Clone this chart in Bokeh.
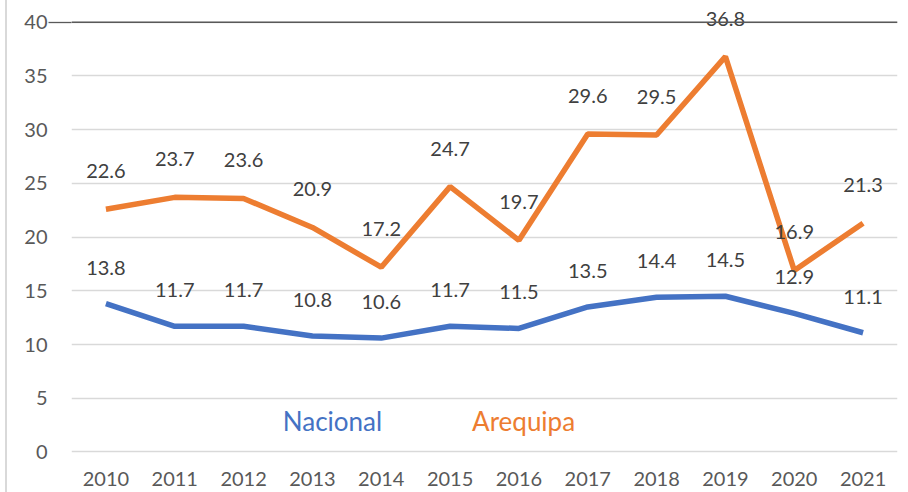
from bokeh.plotting import figure
from bokeh.models import ColumnDataSource, FixedTicker, LinearAxis, Span, Label, Range1d
from bokeh.embed import file_html
from bokeh.resources import INLINE

years = ["2010", "2011", "2012", "2013", "2014", "2015",
         "2016", "2017", "2018", "2019", "2020", "2021"]
nacional = [13.8, 11.7, 11.7, 10.8, 10.6, 11.7, 11.5, 13.5, 14.4, 14.5, 12.9, 11.1]
arequipa = [22.6, 23.7, 23.6, 20.9, 17.2, 24.7, 19.7, 29.6, 29.5, 36.8, 16.9, 21.3]
y_ticks = [0, 5, 10, 15, 20, 25, 30, 35, 40]
series_names = ["Nacional", "Arequipa"]

BLUE = "#4472C4"
ORANGE = "#ED7D31"
FONT = "Lato"

src = ColumnDataSource(dict(
    year=years, nac=nacional, are=arequipa,
    nac_lbl=[f"{v:.1f}" for v in nacional],
    are_lbl=[f"{v:.1f}" for v in arequipa],
    base=[y_ticks[0]] * len(years),
))

# frame reaches the bottom edge so the category labels can sit below the zero line
p = figure(x_range=years, y_range=Range1d(-3.77, 41), width=901, height=492,
           output_backend="svg", toolbar_location=None,
           min_border_left=64, min_border_right=11, min_border_top=11,
           min_border_bottom=0,
           styles={"margin-left": "5px", "border-left": "2px solid #d9d9d9"})
p.outline_line_color = None
p.background_fill_color = "white"
p.border_fill_color = "white"

# grid
p.xgrid.grid_line_color = None
p.ygrid.ticker = FixedTicker(ticks=y_ticks)
p.ygrid.grid_line_color = "#d9d9d9"
p.ygrid.grid_line_width = 1.3

# inner left axis: only the dark extension at the top tick
ax_in = p.yaxis[0]
ax_in.ticker = FixedTicker(ticks=[y_ticks[-1]])
ax_in.axis_line_color = None
ax_in.major_tick_in = 0
ax_in.major_tick_out = 23
ax_in.major_tick_line_color = "#595959"
ax_in.major_tick_line_width = 1.3
ax_in.minor_tick_line_color = None
ax_in.major_label_text_font_size = "0px"
ax_in.major_label_text_color = None
ax_in.major_label_standoff = 0

# outer left axis with tick labels
ax_lbl = LinearAxis(ticker=FixedTicker(ticks=y_ticks))
ax_lbl.axis_line_color = None
ax_lbl.major_tick_line_color = None
ax_lbl.minor_tick_line_color = None
ax_lbl.major_tick_in = 0
ax_lbl.major_tick_out = 0
ax_lbl.major_label_standoff = 1
ax_lbl.major_label_text_font = FONT
ax_lbl.major_label_text_font_size = "20px"
ax_lbl.major_label_text_color = "#595959"
p.add_layout(ax_lbl, "left")

# category axis drawn as text under the zero line
p.xaxis.visible = False
p.text("year", "base", text="year", source=src, text_align="center",
       text_baseline="middle", y_offset=27.5, text_font_size="20px",
       text_font={"value": FONT}, text_color="#595959")

# dark top line
p.add_layout(Span(location=y_ticks[-1], dimension="width",
                  line_color="#595959", line_width=1.3))

# series
p.line("year", "nac", source=src, line_color=BLUE, line_width=5.5)
p.line("year", "are", source=src, line_color=ORANGE, line_width=5.5)

# data labels
p.text("year", "nac", text="nac_lbl", source=src, text_align="center",
       text_baseline="middle", y_offset=-36, text_font_size="20px",
       text_font={"value": FONT}, text_color="#404040")
p.text("year", "are", text="are_lbl", source=src, text_align="center",
       text_baseline="middle", y_offset=-38, text_font_size="20px",
       text_font={"value": FONT}, text_color="#404040")

# series name labels
p.add_layout(Label(x=3.07, y=2.85, text=series_names[0], text_color=BLUE,
                   text_font=FONT, text_font_size="26px",
                   text_baseline="alphabetic", text_align="left"))
p.add_layout(Label(x=5.82, y=2.85, text=series_names[1], text_color=ORANGE,
                   text_font=FONT, text_font_size="26px",
                   text_baseline="alphabetic", text_align="left"))

open("out.html", "w").write(file_html(p, INLINE))
